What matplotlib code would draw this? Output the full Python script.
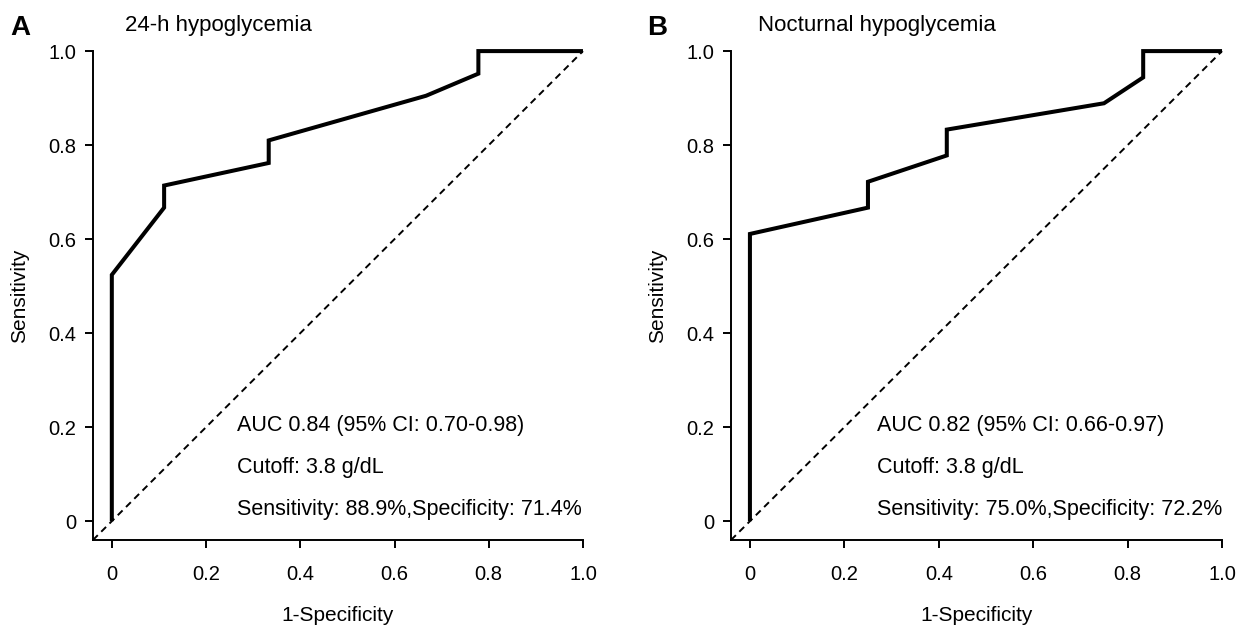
import numpy as np
import matplotlib
matplotlib.use('Agg')
import matplotlib.pyplot as plt

plt.rcParams['font.family'] = ['Liberation Sans', 'DejaVu Sans']

# ROC curve points (1-specificity, sensitivity)
fpr_a = [0, 0, 0.111, 0.111, 0.333, 0.333, 0.667, 0.778, 0.778, 1.0]
tpr_a = [0, 0.524, 0.667, 0.714, 0.762, 0.810, 0.905, 0.952, 1.0, 1.0]

fpr_b = [0, 0, 0.25, 0.25, 0.417, 0.417, 0.75, 0.833, 0.833, 1.0]
tpr_b = [0, 0.611, 0.667, 0.722, 0.778, 0.833, 0.889, 0.944, 1.0, 1.0]

titles = ['24-h hypoglycemia', 'Nocturnal hypoglycemia']
panel_letters = ['A', 'B']
notes = [
    ['AUC 0.84 (95% CI: 0.70-0.98)', 'Cutoff: 3.8 g/dL',
     'Sensitivity: 88.9%,Specificity: 71.4%'],
    ['AUC 0.82 (95% CI: 0.66-0.97)', 'Cutoff: 3.8 g/dL',
     'Sensitivity: 75.0%,Specificity: 72.2%'],
]
ticks = [0, 0.2, 0.4, 0.6, 0.8, 1.0]
tick_labels = ['0', '0.2', '0.4', '0.6', '0.8', '1.0']

fig = plt.figure(figsize=(12.38, 6.30), dpi=100)
axes_pos = [[0.0751, 0.1429, 0.3958, 0.776],
            [0.5905, 0.1429, 0.3966, 0.776]]
note_x = [0.265, 0.27]
title_x = [0.101, 0.612]
letter_x = [0.008, 0.523]

for i, (fpr, tpr) in enumerate([(fpr_a, tpr_a), (fpr_b, tpr_b)]):
    ax = fig.add_axes(axes_pos[i])
    lo = -0.04
    ax.set_xlim(lo, 1.0)
    ax.set_ylim(lo, 1.0)
    ax.plot([lo, 1.0], [lo, 1.0], color='black', lw=1.4,
            linestyle=(0, (3.5, 2.5)), clip_on=False)
    ax.plot(fpr, tpr, color='black', lw=2.9, clip_on=False,
            solid_joinstyle='miter', solid_capstyle='butt', zorder=3)

    ax.spines['top'].set_visible(False)
    ax.spines['right'].set_visible(False)
    ax.spines['left'].set_linewidth(1.4)
    ax.spines['bottom'].set_linewidth(1.4)
    ax.set_xticks(ticks)
    ax.set_xticklabels(tick_labels)
    ax.set_yticks(ticks)
    ax.set_yticklabels(tick_labels)
    ax.tick_params(direction='out', length=6, width=1.4, labelsize=14.5, pad=6)
    ax.tick_params(axis='x', pad=12)

    ax.set_xlabel('1-Specificity', fontsize=15, labelpad=16)
    ax.set_ylabel('Sensitivity', fontsize=15, labelpad=14)

    for j, txt in enumerate(notes[i]):
        ax.text(note_x[i], 0.204 - j * 0.09, txt, fontsize=15.5,
                va='center', ha='left')

    fig.text(title_x[i], 0.959, titles[i], fontsize=16, va='center', ha='left')
    fig.text(letter_x[i], 0.955, panel_letters[i], fontsize=20,
             fontweight='bold', va='center')

fig.savefig('out.png', dpi=100)
